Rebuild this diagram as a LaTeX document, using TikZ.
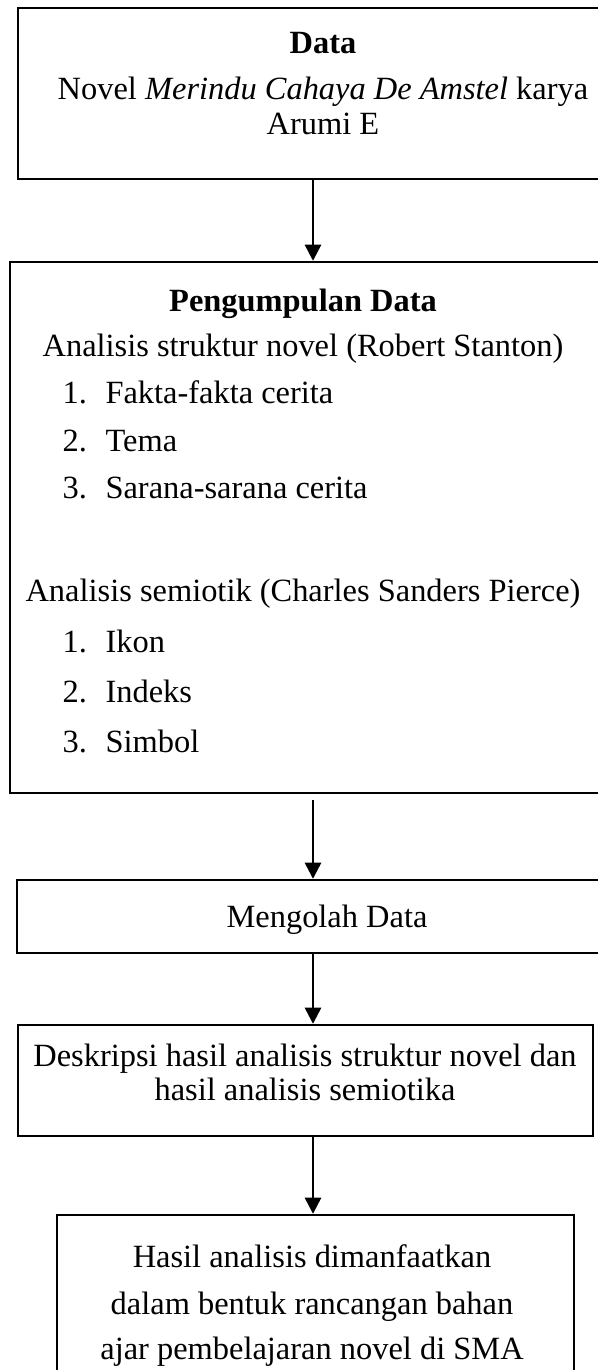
\documentclass[tikz,border=0pt]{standalone}
\usepackage{fontspec}
\setmainfont{Liberation Serif}
\usetikzlibrary{arrows.meta,fit}

\begin{document}
\begin{tikzpicture}[
    x=0.37pt, y=0.37pt,
    box/.style={draw, line width=0.9pt, inner sep=0pt},
    txt/.style={anchor=base, font=\fontsize{12}{14}\selectfont, inner sep=0pt},
    item/.style={anchor=base west, font=\fontsize{12}{14}\selectfont, inner sep=0pt},
    arrow/.style={-{Triangle[length=6pt, width=6pt]}, line width=0.9pt}
]
    % page, the boxes run past the right edge
    \useasboundingbox (0,0) rectangle (598,-1370);
    \clip (0,0) rectangle (598,-1370);
    \coordinate (axis) at (313,0);

    % Data
    \node[box, fit={(18,-8) (628,-179)}] (data) {};
    \node[txt] (dataTitle) at (323,-53) {\textbf{Data}};
    \node[txt] (dataNovel) at (323,-99) {Novel \textit{Merindu Cahaya De Amstel} karya};
    \node[txt] (dataAuthor) at (323,-134) {Arumi E};

    % Pengumpulan data
    \node[box, fit={(10,-262) (610,-793)}] (kumpul) {};
    \node[txt] (kumpulTitle) at (303,-311) {\textbf{Pengumpulan Data}};
    \node[txt] (stanton) at (303,-356) {Analisis struktur novel (Robert Stanton)};
    \node[item] (sA) at (62,-403) {1.};
    \node[item] (sAt) at (105,-403) {Fakta-fakta cerita};
    \node[item] (sB) at (62,-451) {2.};
    \node[item] (sBt) at (105,-451) {Tema};
    \node[item] (sC) at (62,-498) {3.};
    \node[item] (sCt) at (105,-498) {Sarana-sarana cerita};
    \node[txt] (pierce) at (303,-601) {Analisis semiotik (Charles Sanders Pierce)};
    \node[item] (pA) at (62,-652) {1.};
    \node[item] (pAt) at (105,-652) {Ikon};
    \node[item] (pB) at (62,-702) {2.};
    \node[item] (pBt) at (105,-702) {Indeks};
    \node[item] (pC) at (62,-752) {3.};
    \node[item] (pCt) at (105,-752) {Simbol};

    % Mengolah data
    \node[box, fit={(17,-880) (637,-953)}] (olah) {};
    \node[txt] (olahText) at (327,-927) {Mengolah Data};

    % Deskripsi
    \node[box, fit={(18,-1025) (593,-1136)}] (deskripsi) {};
    \node[txt] (deskA) at (305,-1066) {Deskripsi hasil analisis struktur novel dan};
    \node[txt] (deskB) at (305,-1100) {hasil analisis semiotika};

    % Hasil
    \node[box, fit={(57,-1215) (574,-1400)}] (hasil) {};
    \node[txt] (hasilA) at (312,-1267) {Hasil analisis dimanfaatkan};
    \node[txt] (hasilB) at (312,-1314) {dalam bentuk rancangan bahan};
    \node[txt] (hasilC) at (312,-1359) {ajar pembelajaran novel di SMA};

    % Arrows
    \draw[arrow] (data.south -| axis) -- (kumpul.north -| axis);
    \draw[arrow] ([yshift=-2pt]kumpul.south -| axis) -- (olah.north -| axis);
    \draw[arrow] (olah.south -| axis) -- (deskripsi.north -| axis);
    \draw[arrow] (deskripsi.south -| axis) -- (hasil.north -| axis);
\end{tikzpicture}
\end{document}
